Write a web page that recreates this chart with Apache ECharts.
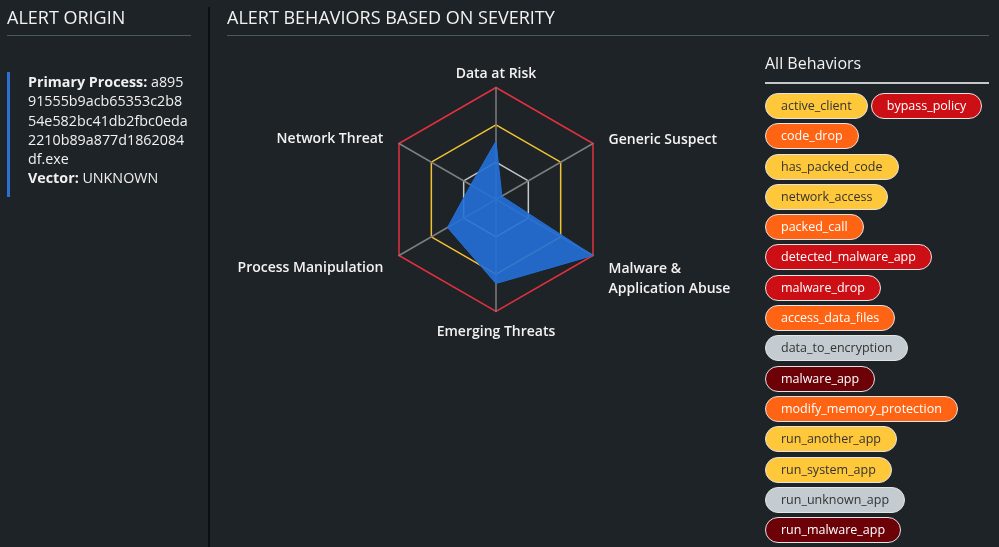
<!DOCTYPE html>
<html>
<head>
<meta charset="utf-8">
<script src="https://cdn.jsdelivr.net/npm/echarts@6/dist/echarts.min.js"></script>
<style>
body{margin:0;width:999px;height:547px;overflow:hidden;background:#1e2327;font-family:'Open Sans',sans-serif;color:#f0f0f0;position:relative}
#chart{position:absolute;left:0;top:0;width:999px;height:547px}
.h{position:absolute;font-size:18px;line-height:24px;white-space:nowrap;color:#f2f2f2}
.rule{position:absolute;height:1px;background:#4a5861}
#divider{position:absolute;left:208px;top:7px;width:2px;height:540px;background:#0c0e0f}
#origin{position:absolute;left:7px;top:72px;height:125px;border-left:3px solid #2d6fd2;padding-left:18px;font-size:14.3px;line-height:19.3px}
#origin b{font-weight:bold}
#allb{position:absolute;left:765px;top:51px;font-size:16px;line-height:24px;color:#f2f2f2}
#allrule{position:absolute;left:765px;top:82px;width:224px;height:2px;background:#c5c9cc}
#badges{position:absolute;left:765px;top:93px;width:220px;display:flex;flex-wrap:wrap;column-gap:3px;row-gap:4.3px}
.pill{box-sizing:border-box;height:26px;line-height:24px;padding:0 15px;border:1px solid #e4e4e4;border-radius:13px;font-size:12.5px;white-space:nowrap}
</style>
</head>
<body>
<div id="chart"></div>
<div class="h" style="left:7px;top:5px">ALERT ORIGIN</div>
<div class="rule" style="left:7px;top:35px;width:184px"></div>
<div id="divider"></div>
<div class="h" style="left:227px;top:5px">ALERT BEHAVIORS BASED ON SEVERITY</div>
<div class="rule" style="left:227px;top:35px;width:762px"></div>
<div id="origin"></div>
<div id="allb">All Behaviors</div>
<div id="allrule"></div>
<div id="badges"></div>
<script>
// radar data
var indicatorNames = ['Data at Risk', 'Network Threat', 'Process Manipulation', 'Emerging Threats', 'Malware &\nApplication Abuse', 'Generic Suspect'];
var indicatorMax = [100, 100, 100, 100, 100, 100];
var severityValues = [52, 26, 50, 75, 100, 6];

// left panel
var primaryProcessLines = ['a895', '91555b9acb65353c2b8', '54e582bc41db2fbc0eda', '2210b89a877d1862084', 'df.exe'];
var vectorText = 'UNKNOWN';

// behaviour badges
var behaviors = ['active_client', 'bypass_policy', 'code_drop', 'has_packed_code', 'network_access', 'packed_call',
  'detected_malware_app', 'malware_drop', 'access_data_files', 'data_to_encryption', 'malware_app',
  'modify_memory_protection', 'run_another_app', 'run_system_app', 'run_unknown_app', 'run_malware_app'];
var behaviorLevels = ['low', 'high', 'medium', 'low', 'low', 'medium',
  'high', 'high', 'medium', 'info', 'critical',
  'medium', 'low', 'low', 'info', 'critical'];
var levelColors = {
  info: ['#c5ccd1', '#333'],
  low: ['#ffc83b', '#333'],
  medium: ['#ff6414', '#fff'],
  high: ['#cc0f14', '#fff'],
  critical: ['#6c0108', '#fff']
};

var origin = document.getElementById('origin');
origin.innerHTML = '<b>Primary Process:</b> ' + primaryProcessLines.join('<br>') +
  '<br><b>Vector:</b> ' + vectorText;

var badgeBox = document.getElementById('badges');
for (var i = 0; i < behaviors.length; i++) {
  var el = document.createElement('div');
  el.className = 'pill';
  el.textContent = behaviors[i];
  el.style.background = levelColors[behaviorLevels[i]][0];
  el.style.color = levelColors[behaviorLevels[i]][1];
  badgeBox.appendChild(el);
}

var chart = echarts.init(document.getElementById('chart'), null, { renderer: 'canvas' });

var indicators = [];
for (var k = 0; k < indicatorNames.length; k++) {
  indicators.push({ name: indicatorNames[k], max: indicatorMax[k] });
}

// nudge each axis name a little so they sit like the original
var namePad = {
  'Data at Risk': [0, 0, 0, 0],
  'Network Threat': [0, 13, 5, 0],
  'Process Manipulation': [23, 13, 0, 0],
  'Emerging Threats': [15, 0, 0, 0],
  'Malware &': [0, 0, 0, 13],
  'Application Abuse': [0, 0, 0, 13],
  'Generic Suspect': [0, 0, 4, 13]
};
var rich = {
  sp: { fontSize: 1, lineHeight: 45 }
};
var richKeys = {};
var ri = 0;
for (var nm in namePad) {
  richKeys[nm] = 'r' + ri;
  rich['r' + ri] = {
    color: '#f2f2f2', fontFamily: 'Open Sans', fontSize: 14, fontWeight: 600,
    lineHeight: 20, padding: namePad[nm]
  };
  ri++;
}

var option = {
  animation: false,
  radar: {
    center: [496, 199.5],
    radius: 112,
    shape: 'polygon',
    splitNumber: 3,
    indicator: indicators,
    nameGap: 3,
    axisName: {
      color: '#f2f2f2',
      fontFamily: 'Open Sans',
      fontSize: 14,
      fontWeight: 600,
      lineHeight: 20,
      formatter: function (name) {
        var parts = name.split('\n');
        var txt = parts.map(function (s) {
          return '{' + richKeys[s] + '|' + s + '}';
        }).join('\n');
        // two-line name hangs below its vertex, push it down with a spacer line
        if (parts.length > 1) txt = '{sp| }\n' + txt;
        return txt;
      },
      rich: rich
    },
    axisLine: { lineStyle: { color: '#7e7e7e', width: 1.5 } },
    splitLine: { lineStyle: { color: ['#7e7e7e', '#c4c8cb', '#f4c232', '#e2303f'], width: 1.5 } },
    splitArea: { show: false }
  },
  series: [{
    type: 'radar',
    symbol: 'none',
    lineStyle: { width: 1, color: '#2470d8' },
    areaStyle: { color: '#2470d8', opacity: 0.9 },
    data: [{ value: severityValues, name: 'Severity' }]
  }]
};

chart.setOption(option);
</script>
</body>
</html>
